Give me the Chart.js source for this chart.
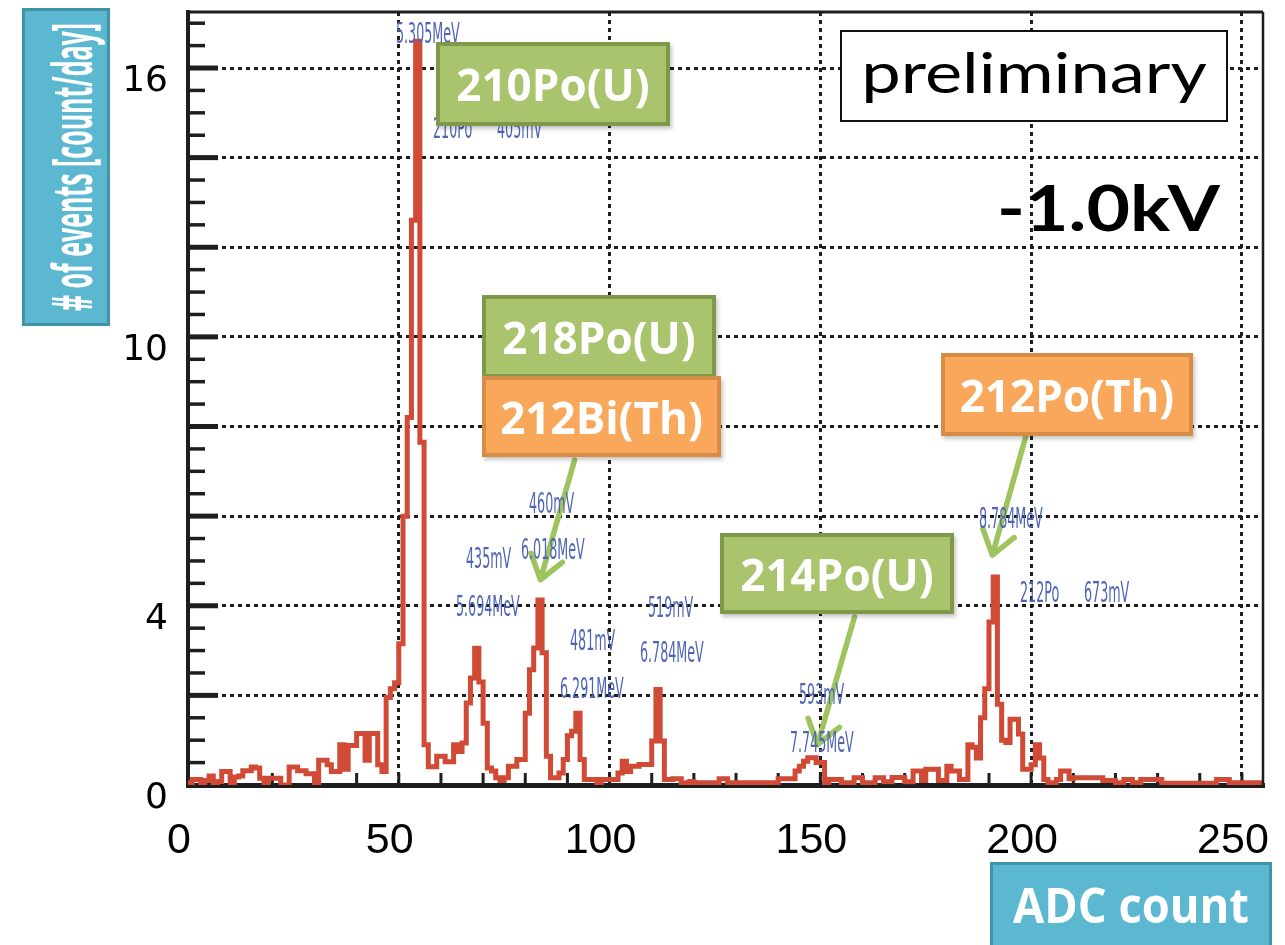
<!DOCTYPE html>
<html>
<head>
<meta charset="utf-8">
<script src="https://cdn.jsdelivr.net/npm/chart.js@4.4.1/dist/chart.umd.min.js"></script>
<style>
  html, body { margin: 0; background: #fff; }
  #wrap { position: relative; width: 1285px; height: 945px; overflow: hidden; }
  #overlay { position: absolute; left: 0; top: 0; width: 1285px; height: 945px; pointer-events: none; }
  .tag {
    position: absolute; white-space: nowrap; line-height: 1; color: #4f64b6;
    font: 28px 'Liberation Sans Narrow', 'DejaVu Sans Condensed', sans-serif;
    transform-origin: 0 50%; transform: translateY(-50%) scaleX(var(--k, 0.7));
  }
  .callout {
    position: absolute; box-sizing: border-box; border: 4px solid;
    display: flex; align-items: center; justify-content: center;
    color: #fff; font: 700 44px 'Open Sans', sans-serif; white-space: nowrap;
    box-shadow: 2px 3px 4px rgba(0,0,0,0.22);
  }
  .green  { background: #a9c46c; border-color: #7f994b; }
  .orange { background: #f9a85b; border-color: #d68b46; }
  .teal { position: absolute; box-sizing: border-box; background: #5bb8d0; border: 3px solid #4193a7; }
  .teal span {
    position: absolute; left: 50%; top: 50%; white-space: nowrap; line-height: 1;
    color: #fff; font: 700 48px 'Open Sans', sans-serif;
  }
  #ytitle { left: calc(50% + 4px); font-size: 56px; }
  #prelim {
    position: absolute; left: 840px; top: 30px; width: 388px; height: 92px; box-sizing: border-box;
    border: 2.5px solid #111; background: #fff;
  }
  #prelim span, #hv {
    position: absolute; white-space: nowrap; line-height: 1; color: #000;
  }
  #prelim span { left: 50%; top: 50%; font: 400 56px 'Lato', sans-serif; }
  #hv { left: 997px; top: 168px; font: 700 64px 'Lato', sans-serif; transform-origin: 0 0; }
</style>
</head>
<body>
<div id="wrap">
  <canvas id="spectrum"></canvas>
  <div id="overlay"></div>

  <div class="teal" style="left:22px;top:8px;width:88px;height:318px;"><span id="ytitle"># of events [count/day]</span></div>
  <div class="teal" style="left:990px;top:862px;width:282px;height:100px;"><span id="xtitle">ADC count</span></div>

  <div id="prelim"><span id="prelimText">preliminary</span></div>
  <div id="hv">-1.0kV</div>

  <div class="callout green"  style="left:436px;top:42px;width:234px;height:84px;">210Po(U)</div>
  <div class="callout green"  style="left:482px;top:295px;width:234px;height:83px;">218Po(U)</div>
  <div class="callout orange" style="left:482px;top:376px;width:239px;height:81px;">212Bi(Th)</div>
  <div class="callout orange" style="left:941px;top:353px;width:252px;height:83px;">212Po(Th)</div>
  <div class="callout green"  style="left:720px;top:533px;width:234px;height:81px;">214Po(U)</div>
</div>

<script>
/* alpha spectrum, -1.0 kV run: counts per day in 1-ADC bins (bin i = [i, i+1)) */

const INK   = '#1e1e1e';
const RED   = '#d04a35';
const ARROW = '#9dc45f';

const X_MAX = 255;
const Y_MAX = 17.25;

const counts = [
  0.05, 0.12, 0.12, 0.05, 0.10, 0.20, 0.05, 0.08, 0.30, 0.30,
  0.05, 0.18, 0.20, 0.32, 0.32, 0.40, 0.38, 0.15, 0.05, 0.15,
  0.15, 0.15, 0,    0,    0.40, 0.40, 0.32, 0.32, 0.25, 0.25,
  0.05, 0.55, 0.55, 0.45, 0.30, 0.30, 0.90, 0.35, 0.88, 0.88,
  1.15, 1.15, 0.55, 1.15, 1.15, 0.45, 0.30, 1.95, 2.15, 2.28,
  3.15, 6.00, 8.20, 12.6, 16.6, 7.65, 0.90, 0.41, 0.41, 0.64,
  0.64, 0.52, 0.52, 0.90, 0.75, 0.94, 1.83, 2.39, 3.05, 2.30,
  1.38, 0.38, 0.31, 0.16, 0.10, 0.16, 0.42, 0.42, 0.57, 0.57,
  1.60, 2.57, 3.06, 4.13, 2.95, 0.64, 0.16, 0.16, 0.27, 0.57,
  1.10, 1.20, 1.60, 0.57, 0.12, 0.12, 0.12, 0,    0.12, 0.12,
  0.12, 0.12, 0.27, 0.53, 0.30, 0.42, 0.42, 0.46, 0.46, 0.46,
  0.98, 2.13, 0.98, 0.12, 0.12, 0.14, 0.14, 0.05, 0.05, 0.08,
  0.05, 0.05, 0.05, 0.05, 0.05, 0.05, 0.14, 0.14, 0.05, 0,
  0.05, 0.05, 0.05, 0.05, 0,    0.05, 0.05, 0.05, 0.05, 0.05,
  0.14, 0.14, 0.14, 0.14, 0.31, 0.42, 0.53, 0.61, 0.61, 0.50,
  0.50, 0,    0.12, 0.12, 0.12, 0.05, 0.05, 0.05, 0.16, 0.16,
  0.05, 0.05, 0.05, 0.16, 0.16, 0.07, 0.07, 0.17, 0.17, 0.17,
  0.07, 0.07, 0.31, 0.31, 0.10, 0.35, 0.35, 0.35, 0.10, 0.10,
  0.42, 0.31, 0.31, 0.12, 0.12, 0.90, 0.84, 0.60, 1.50, 2.15,
  3.64, 4.64, 1.80, 1.00, 0.95, 1.47, 1.47, 1.14, 0.35, 0.35,
  0.45, 0.90, 0.60, 0.12, 0.05, 0.05, 0.12, 0.31, 0.31, 0.14,
  0.16, 0.16, 0.16, 0.16, 0.16, 0.16, 0.16, 0.10, 0.10, 0.10,
  0.05, 0.05, 0.12, 0.12, 0.05, 0.05, 0.12, 0.12, 0.12, 0.12,
  0.12, 0.04, 0.04, 0.04, 0.04, 0.04, 0.04, 0.04, 0.04, 0.04,
  0.04, 0.04, 0.04, 0.04, 0.12, 0.12, 0.12, 0.05, 0.05, 0.05,
  0.05, 0.05, 0.05, 0.05, 0.05
];

const xTickLabels = [0, 50, 100, 150, 200, 250];
const yTickLabels = [0, 4, 10, 16];
const xGridAt = [50, 100, 150, 200, 250];
const yGridAt = [2, 4, 6, 8, 10, 12, 14, 16];

/* fit-result labels printed on the plot: text, ADC, count/day (left edge, mid height) */
const peakTags = [
  ['5.305MeV', 49.3, 16.78],
  ['210Po',    58.1, 14.67],
  ['405mV',    73.2, 14.67],
  ['460mV',    81.0, 6.29],
  ['6.018MeV', 78.9, 5.27],
  ['435mV',    65.9, 5.07],
  ['5.694MeV', 63.5, 4.00],
  ['481mV',    90.5, 3.24],
  ['6.291MeV', 88.2, 2.17],
  ['519mV',   109.2, 3.98],
  ['6.784MeV',107.1, 2.97],
  ['593mV',   145.0, 2.02],
  ['7.745MeV',142.7, 0.97],
  ['8.784MeV',187.7, 5.96],
  ['212Po',   197.4, 4.31],
  ['673mV',   212.6, 4.31]
];

/* callout arrows: from (ADC, count/day) to (ADC, count/day) */
const arrowFrom = [[91.7, 7.25], [198.8, 7.8], [158.1, 3.75]];
const arrowTo   = [[83.6, 4.58], [190.8, 5.13], [149.3, 0.9]];

/* histogram outline: left bin edges, closed with the right edge of the last bin */
const points = counts.map((c, i) => ({ x: i, y: c }));
points.push({ x: counts.length, y: counts[counts.length - 1] });

/* ── overlay text ─────────────────────────────────────────── */
const overlay = document.getElementById('overlay');
const tagEls = peakTags.map(([txt]) => {
  const d = document.createElement('div');
  d.className = 'tag';
  d.textContent = txt;
  overlay.appendChild(d);
  return d;
});
// the fit labels are a squeezed narrow face; 5.694MeV is ~64px wide in the original
const sample = tagEls[6].offsetWidth || 1;
overlay.style.setProperty('--k', (64 / sample).toFixed(3));

function squeeze(el, width, pre) {
  const k = width / (el.offsetWidth || 1);
  el.style.transform = (pre || '') + ' scaleX(' + k.toFixed(3) + ')';
}
squeeze(document.getElementById('ytitle'), 288, 'translate(-50%,-50%) rotate(-90deg)');
squeeze(document.getElementById('xtitle'), 236, 'translate(-50%,-62%)');
squeeze(document.getElementById('prelimText'), 346, 'translate(-50%,-56%)');
squeeze(document.getElementById('hv'), 223);

/* ── plugins ──────────────────────────────────────────────── */
const innerTicks = {
  id: 'innerTicks',
  beforeDatasetsDraw(chart) {
    const { ctx, chartArea: a, scales: { x, y } } = chart;
    ctx.save();
    ctx.strokeStyle = INK;
    for (let k = 1; k * 0.5 <= Y_MAX; k++) {
      const py = y.getPixelForValue(k * 0.5);
      const major = k % 4 === 0;
      ctx.lineWidth = major ? 5 : 3.5;
      ctx.beginPath();
      ctx.moveTo(a.left, py);
      ctx.lineTo(a.left + (major ? 30 : 17), py);
      ctx.stroke();
    }
    ctx.lineWidth = 3;
    for (let v = 10; v < X_MAX; v += 10) {
      const px = x.getPixelForValue(v);
      ctx.beginPath();
      ctx.moveTo(px, a.bottom);
      ctx.lineTo(px, a.bottom - 12);
      ctx.stroke();
    }
    ctx.restore();
  },
  afterDatasetsDraw(chart) {
    const { ctx, chartArea: a, scales: { x, y } } = chart;
    ctx.save();
    ctx.strokeStyle = INK;
    ctx.lineWidth = 3;
    ctx.beginPath();
    ctx.moveTo(a.left - 2, a.top);
    ctx.lineTo(a.right, a.top);
    ctx.stroke();
    ctx.lineWidth = 2.5;
    ctx.beginPath();
    ctx.moveTo(a.right, a.top);
    ctx.lineTo(a.right, a.bottom);
    ctx.stroke();

    /* green callout arrows */
    ctx.strokeStyle = ARROW;
    ctx.lineWidth = 5.5;
    ctx.lineCap = 'round';
    ctx.lineJoin = 'round';
    arrowFrom.forEach((f, i) => {
      const x0 = x.getPixelForValue(f[0]), y0 = y.getPixelForValue(f[1]);
      const x1 = x.getPixelForValue(arrowTo[i][0]), y1 = y.getPixelForValue(arrowTo[i][1]);
      const ang = Math.atan2(y1 - y0, x1 - x0);
      ctx.beginPath();
      ctx.moveTo(x0, y0);
      ctx.lineTo(x1, y1);
      ctx.moveTo(x1 - 28 * Math.cos(ang - 0.62), y1 - 28 * Math.sin(ang - 0.62));
      ctx.lineTo(x1, y1);
      ctx.lineTo(x1 - 28 * Math.cos(ang + 0.62), y1 - 28 * Math.sin(ang + 0.62));
      ctx.stroke();
    });
    ctx.restore();
  },
  afterRender(chart) {
    const { x, y } = chart.scales;
    peakTags.forEach(([, ax, ay], i) => {
      tagEls[i].style.left = x.getPixelForValue(ax) + 'px';
      tagEls[i].style.top = y.getPixelForValue(ay) + 'px';
    });
  }
};

/* ── chart ───────────────────────────────────────────────── */
new Chart(document.getElementById('spectrum'), {
  type: 'line',
  data: {
    datasets: [{
      label: 'count/day',
      data: points,
      stepped: true,
      borderColor: RED,
      borderWidth: 5,
      pointRadius: 0,
      fill: false,
      borderJoinStyle: 'miter',
    }],
  },
  options: {
    responsive: true, maintainAspectRatio: false,
    animation: false,
    devicePixelRatio: 1,
    layout: { autoPadding: false, padding: { top: 12, right: 22, left: 0, bottom: 0 } },
    plugins: { legend: { display: false }, tooltip: { enabled: false } },
    scales: {
      x: {
        type: 'linear', min: 0, max: X_MAX,
        afterBuildTicks: s => { s.ticks = Array.from({ length: 26 }, (_, i) => ({ value: i * 10 })); },
        afterFit: s => { s.height = 160; s.paddingLeft = 0; s.paddingRight = 0; },
        grid: {
          drawTicks: false, lineWidth: 3,
          color: c => (c.tick && xGridAt.includes(c.tick.value)) ? INK : 'rgba(0,0,0,0)',
        },
        border: { display: true, color: INK, width: 5, dash: [4, 4] },
        ticks: {
          autoSkip: false, maxRotation: 0, padding: 30, labelOffset: -9,
          color: '#000',
          font: { family: "'Liberation Sans', sans-serif", size: 43 },
          callback: v => xTickLabels.includes(v) ? String(v) : '',
        },
      },
      y: {
        type: 'linear', min: 0, max: Y_MAX,
        afterBuildTicks: s => { s.ticks = Array.from({ length: 9 }, (_, i) => ({ value: i * 2 })); },
        afterFit: s => { s.width = 188; s.paddingTop = 0; s.paddingBottom = 0; },
        grid: {
          drawTicks: false, lineWidth: 3,
          color: c => (c.tick && yGridAt.includes(c.tick.value)) ? INK : 'rgba(0,0,0,0)',
        },
        border: { display: true, color: INK, width: 4, dash: [4, 4] },
        ticks: {
          autoSkip: false, padding: 20, labelOffset: 14,
          color: '#000',
          font: { family: "'DejaVu Sans', sans-serif", size: 36 },
          callback: v => yTickLabels.includes(v) ? String(v) : '',
        },
      },
    },
  },
  plugins: [innerTicks],
});
</script>
</body>
</html>
